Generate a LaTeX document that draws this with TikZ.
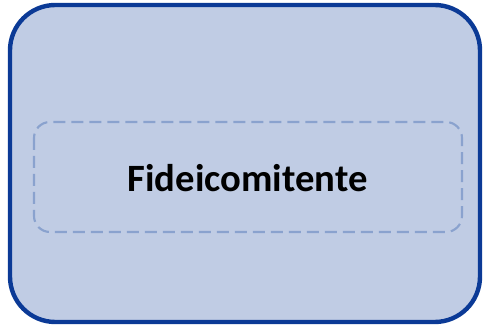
\documentclass[tikz,border=0pt]{standalone}
\usepackage{fontspec}
\setmainfont{Carlito}
\definecolor{boxfill}{HTML}{C0CCE4}
\definecolor{boxline}{HTML}{0B3A96}
\definecolor{dashline}{HTML}{8AA2CE}
\begin{document}
\begin{tikzpicture}[x=0.75pt,y=-0.75pt]
        \useasboundingbox (0,0) rectangle (483,327);
        \coordinate (A) at (10,5);
        \coordinate (C) at (480,322);
        \coordinate (E) at (34,122);
        \coordinate (G) at (462,232);
        \draw[boxline,fill=boxfill,line width=3.3pt,rounded corners=34pt] (A) rectangle (C) ;
        \draw[dashline,line width=1.6pt,dash pattern=on 9pt off 4.5pt,rounded corners=12pt] (E) rectangle (G) ;
        \node[font=\bfseries\fontsize{29}{34}\selectfont] (T) at (247.5,178) {Fideicomitente};
        \end{tikzpicture}
\end{document}
